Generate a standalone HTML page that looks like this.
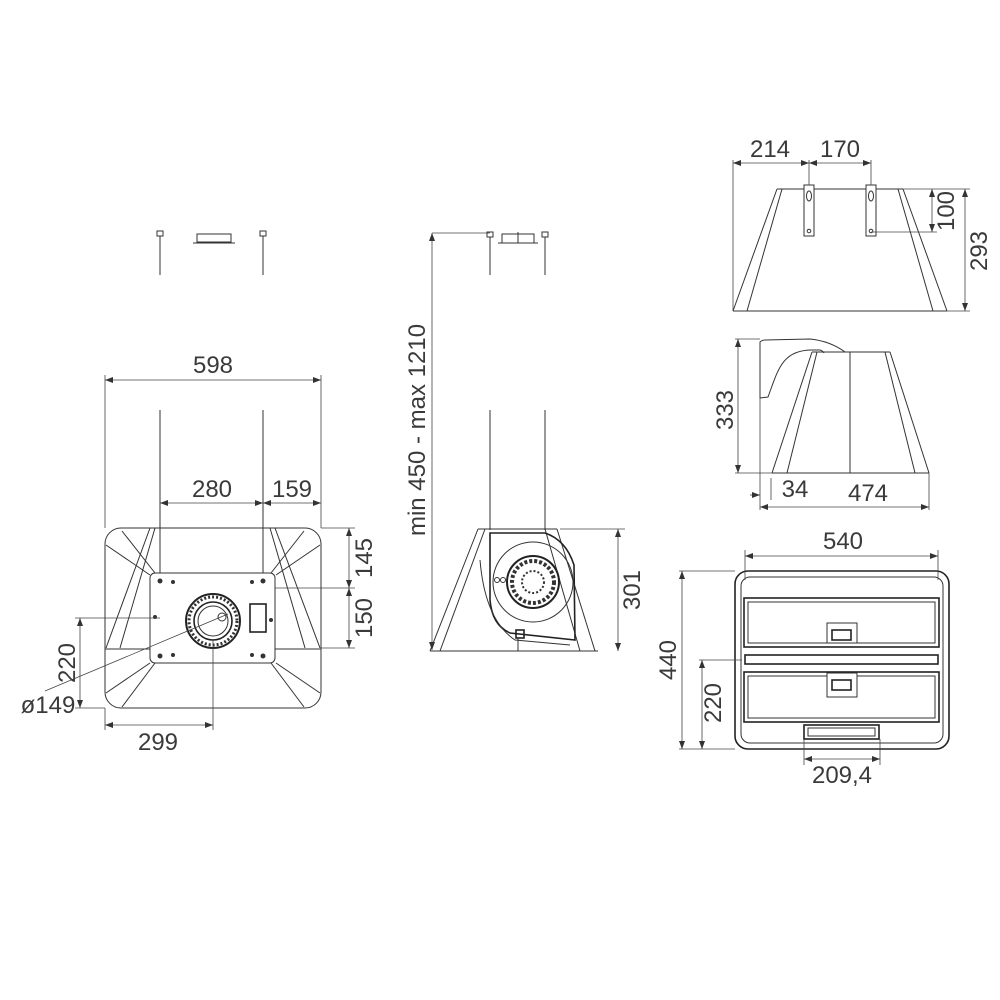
<!DOCTYPE html>
<html><head><meta charset="utf-8"><style>
html,body{margin:0;padding:0;background:#fff}
svg{display:block}
text{font-family:"Liberation Sans",sans-serif;font-size:24px;fill:#3a3a3a}
.l{stroke:#333;stroke-width:1;fill:none}
.t{stroke:#222;stroke-width:1.6;fill:none}
.d{stroke:#444;stroke-width:0.8;fill:none}
</style></head><body>
<svg width="1000" height="1000" viewBox="0 0 1000 1000" xmlns="http://www.w3.org/2000/svg">
<defs>
<marker id="a" markerWidth="8" markerHeight="6" refX="8" refY="3" orient="auto-start-reverse" markerUnits="userSpaceOnUse"><path d="M0,0 L8,3 L0,6 z" fill="#333"/></marker>
</defs>

<!-- LEFT VIEW -->
<g>
<line class="l" x1="160" y1="236" x2="160" y2="275"/><rect class="l" x="157" y="231" width="6" height="5"/>
<line class="l" x1="263" y1="236" x2="263" y2="275"/><rect class="l" x="260" y="231" width="6" height="5"/>
<rect class="l" x="197" y="234" width="34" height="8"/><line class="l" x1="193" y1="243" x2="235" y2="243"/>

<rect class="l" x="105" y="528" width="216" height="180" rx="16"/>
<line class="l" x1="105" y1="649" x2="321" y2="649"/>
<line class="l" x1="150" y1="528" x2="106" y2="648"/><line class="l" x1="155" y1="528" x2="120" y2="648"/>
<line class="l" x1="270" y1="528" x2="305" y2="648"/><line class="l" x1="275" y1="528" x2="320" y2="648"/>
<line class="l" x1="122" y1="531" x2="155" y2="573"/><line class="l" x1="106" y1="545" x2="150" y2="575"/>
<line class="l" x1="106" y1="693" x2="150" y2="663"/><line class="l" x1="122" y1="707" x2="155" y2="663"/>
<line class="l" x1="304" y1="531" x2="271" y2="573"/><line class="l" x1="320" y1="545" x2="276" y2="575"/>
<line class="l" x1="320" y1="693" x2="276" y2="663"/><line class="l" x1="304" y1="707" x2="271" y2="663"/>
<rect class="l" x="150" y="573" width="125" height="90" rx="5" style="fill:#fff"/>
<circle cx="213" cy="621" r="27" fill="none" stroke="#222" stroke-width="2"/>
<circle cx="213" cy="621" r="24" fill="none" stroke="#333" stroke-width="3" stroke-dasharray="2 2"/>
<circle cx="213" cy="621" r="19" class="t"/>
<circle cx="213" cy="621" r="15" class="l"/>
<circle cx="222" cy="617" r="4" class="l"/>
<rect x="250" y="604" width="16" height="28" class="t"/>
<g fill="#333"><circle cx="160" cy="581" r="2.5"/><circle cx="263" cy="581" r="2.5"/><circle cx="160" cy="656" r="2.5"/><circle cx="263" cy="656" r="2.5"/><circle cx="173" cy="582" r="2"/><circle cx="252" cy="582" r="2"/><circle cx="173" cy="655" r="2"/><circle cx="252" cy="655" r="2"/><circle cx="155" cy="617" r="2"/><circle cx="271" cy="620" r="2"/></g>
<line class="d" x1="105" y1="375" x2="105" y2="528"/><line class="d" x1="321" y1="375" x2="321" y2="528"/>
<line class="d" x1="105" y1="380" x2="321" y2="380" marker-start="url(#a)" marker-end="url(#a)"/>
<text x="213" y="373" text-anchor="middle">598</text>
<line class="l" x1="160" y1="410" x2="160" y2="573"/><line class="l" x1="263" y1="410" x2="263" y2="573"/>
<line class="d" x1="160" y1="503" x2="263" y2="503" marker-start="url(#a)" marker-end="url(#a)"/>
<line class="d" x1="263" y1="503" x2="321" y2="503" marker-start="url(#a)" marker-end="url(#a)"/>
<text x="212" y="497" text-anchor="middle">280</text><text x="292" y="497" text-anchor="middle">159</text>
<line class="d" x1="321" y1="528" x2="355" y2="528"/><line class="d" x1="275" y1="588" x2="355" y2="588"/><line class="d" x1="321" y1="648" x2="355" y2="648"/>
<line class="d" x1="349" y1="528" x2="349" y2="588" marker-start="url(#a)" marker-end="url(#a)"/>
<line class="d" x1="349" y1="588" x2="349" y2="648" marker-start="url(#a)" marker-end="url(#a)"/>
<text transform="translate(372,558) rotate(-90)" text-anchor="middle">145</text>
<text transform="translate(372,618) rotate(-90)" text-anchor="middle">150</text>
<line class="d" x1="75" y1="618" x2="160" y2="618"/><line class="d" x1="75" y1="708" x2="105" y2="708"/>
<line class="d" x1="80" y1="618" x2="80" y2="708" marker-start="url(#a)" marker-end="url(#a)"/>
<text transform="translate(75,663) rotate(-90)" text-anchor="middle">220</text>
<line class="d" x1="45" y1="691" x2="228" y2="614"/>
<text x="48" y="713" text-anchor="middle">ø149</text>
<line class="d" x1="105" y1="708" x2="105" y2="730"/><line class="d" x1="213" y1="640" x2="213" y2="730"/>
<line class="d" x1="105" y1="725" x2="213" y2="725" marker-start="url(#a)" marker-end="url(#a)"/>
<text x="158" y="750" text-anchor="middle">299</text>
</g>

<!-- MIDDLE VIEW -->
<g>
<line class="d" x1="432" y1="233" x2="490" y2="233"/>
<line class="d" x1="432" y1="233" x2="432" y2="650" marker-start="url(#a)" marker-end="url(#a)"/>
<text transform="translate(425,430) rotate(-90)" text-anchor="middle">min 450 - max 1210</text>
<line class="l" x1="490" y1="237" x2="490" y2="275"/><rect class="l" x="487" y="232" width="6" height="5"/>
<line class="l" x1="545" y1="237" x2="545" y2="275"/><rect class="l" x="542" y="232" width="6" height="5"/>
<rect class="l" x="502" y="234" width="32" height="9"/><line class="l" x1="498" y1="243" x2="538" y2="243"/><line class="l" x1="518" y1="232" x2="518" y2="243"/>
<line class="l" x1="490" y1="410" x2="490" y2="530"/><line class="l" x1="545" y1="410" x2="545" y2="530"/>
<line class="l" x1="478" y1="529" x2="557" y2="529"/>
<line class="l" x1="430" y1="651" x2="598" y2="651"/>
<line class="l" x1="478" y1="529" x2="430" y2="651"/><line class="l" x1="485" y1="529" x2="440" y2="651"/>
<line class="l" x1="557" y1="529" x2="595" y2="651"/><line class="l" x1="545" y1="529" x2="580" y2="651"/>
<path class="t" d="M490,533 L490,600 Q492,625 510,633 L575,640 L574,565 Q566,540 545,533 Z"/>
<circle cx="533" cy="582" r="40" class="l"/>
<circle cx="533" cy="582" r="26" fill="none" stroke="#222" stroke-width="2"/>
<circle cx="533" cy="582" r="21" fill="none" stroke="#333" stroke-width="4" stroke-dasharray="3 2"/>
<circle cx="533" cy="582" r="11" fill="none" stroke="#333" stroke-width="2" stroke-dasharray="2 2"/>
<path class="l" d="M480,560 Q485,620 515,640 L570,645"/>
<circle cx="497" cy="580" r="2.5" class="l"/><circle cx="503" cy="580" r="2.5" class="l"/>
<rect x="516" y="630" width="8" height="8" class="t"/>
<line class="l" x1="518" y1="638" x2="518" y2="651"/>
<line class="d" x1="560" y1="529" x2="625" y2="529"/>
<line class="d" x1="618" y1="529" x2="618" y2="651" marker-start="url(#a)" marker-end="url(#a)"/>
<text transform="translate(640,590) rotate(-90)" text-anchor="middle">301</text>
</g>

<!-- RIGHT TOP -->
<g>
<line class="l" x1="777" y1="189" x2="903" y2="189"/>
<line class="l" x1="733" y1="311" x2="947" y2="311"/>
<line class="l" x1="777" y1="189" x2="733" y2="311"/><line class="l" x1="782" y1="189" x2="747" y2="311"/>
<line class="l" x1="903" y1="189" x2="947" y2="311"/><line class="l" x1="898" y1="189" x2="933" y2="311"/>
<rect class="l" x="804" y="185" width="10" height="51" style="fill:#fff"/><rect class="l" x="866" y="185" width="10" height="51" style="fill:#fff"/>
<ellipse class="l" cx="809" cy="196" rx="2.5" ry="5"/><ellipse class="l" cx="871" cy="196" rx="2.5" ry="5"/>
<circle class="l" cx="809" cy="231" r="1.8"/><circle class="l" cx="871" cy="231" r="1.8"/>
<line class="d" x1="733" y1="160" x2="733" y2="311"/><line class="d" x1="809" y1="160" x2="809" y2="185"/><line class="d" x1="871" y1="160" x2="871" y2="185"/>
<line class="d" x1="733" y1="163" x2="809" y2="163" marker-start="url(#a)" marker-end="url(#a)"/>
<line class="d" x1="809" y1="163" x2="871" y2="163" marker-start="url(#a)" marker-end="url(#a)"/>
<text x="770" y="157" text-anchor="middle">214</text><text x="840" y="157" text-anchor="middle">170</text>
<line class="d" x1="903" y1="189" x2="970" y2="189"/><line class="d" x1="871" y1="232" x2="937" y2="232"/><line class="d" x1="947" y1="311" x2="970" y2="311"/>
<line class="d" x1="932" y1="189" x2="932" y2="232" marker-start="url(#a)" marker-end="url(#a)"/>
<line class="d" x1="965" y1="189" x2="965" y2="311" marker-start="url(#a)" marker-end="url(#a)"/>
<text transform="translate(954,211) rotate(-90)" text-anchor="middle">100</text>
<text transform="translate(987,251) rotate(-90)" text-anchor="middle">293</text>
</g>

<!-- RIGHT SIDE -->
<g>
<path class="l" d="M760,398 L760,342 Q762,340 765,340 L810,339 Q830,341 845,352"/>
<path class="l" d="M760,398 L768,397 C778,370 782,350 812,350 L820,350 Q823,351 824,353"/>
<line class="l" x1="812" y1="352" x2="890" y2="352"/>
<line class="l" x1="772" y1="473" x2="929" y2="473"/>
<line class="l" x1="812" y1="352" x2="772" y2="473"/><line class="l" x1="817" y1="352" x2="787" y2="473"/>
<line class="l" x1="850" y1="352" x2="850" y2="473"/>
<line class="l" x1="890" y1="352" x2="929" y2="473"/><line class="l" x1="885" y1="352" x2="915" y2="473"/>
<line class="d" x1="735" y1="339" x2="760" y2="339"/><line class="d" x1="735" y1="473" x2="772" y2="473"/>
<line class="d" x1="738" y1="339" x2="738" y2="473" marker-start="url(#a)" marker-end="url(#a)"/>
<text transform="translate(733,410) rotate(-90)" text-anchor="middle">333</text>
<line class="d" x1="760" y1="398" x2="760" y2="510"/><line class="d" x1="771" y1="478" x2="771" y2="500"/><line class="d" x1="929" y1="473" x2="929" y2="510"/>
<line class="d" x1="750" y1="495" x2="760" y2="495" marker-end="url(#a)"/>
<text x="795" y="497" text-anchor="middle">34</text>
<line class="d" x1="760" y1="507" x2="929" y2="507" marker-start="url(#a)" marker-end="url(#a)"/>
<text x="868" y="501" text-anchor="middle">474</text>
</g>

<!-- RIGHT BOTTOM -->
<g>
<rect class="t" x="735" y="571" width="214" height="178" rx="13"/>
<rect class="l" x="741" y="577" width="202" height="166" rx="9"/>
<rect class="t" x="744" y="598" width="195" height="49"/><rect class="l" x="748" y="602" width="187" height="41"/>
<rect class="t" x="745" y="655" width="193" height="9"/>
<rect class="t" x="744" y="672" width="195" height="50"/><rect class="l" x="748" y="676" width="187" height="42"/>
<rect class="l" x="827" y="623" width="30" height="20" style="fill:#fff"/><rect class="t" x="832" y="630" width="19" height="10"/>
<rect class="l" x="827" y="673" width="30" height="24" style="fill:#fff"/><rect class="t" x="832" y="680" width="19" height="10"/>
<rect class="t" x="804" y="725" width="75" height="14"/><rect class="l" x="808" y="728" width="67" height="8"/>
<line class="d" x1="745" y1="550" x2="745" y2="580"/><line class="d" x1="938" y1="550" x2="938" y2="580"/>
<line class="d" x1="745" y1="556" x2="938" y2="556" marker-start="url(#a)" marker-end="url(#a)"/>
<text x="843" y="549" text-anchor="middle">540</text>
<line class="d" x1="679" y1="571" x2="735" y2="571"/><line class="d" x1="679" y1="749" x2="735" y2="749"/><line class="d" x1="699" y1="660" x2="742" y2="660"/>
<line class="d" x1="682" y1="571" x2="682" y2="749" marker-start="url(#a)" marker-end="url(#a)"/>
<line class="d" x1="702" y1="660" x2="702" y2="749" marker-start="url(#a)" marker-end="url(#a)"/>
<text transform="translate(676,660) rotate(-90)" text-anchor="middle">440</text>
<text transform="translate(721,703) rotate(-90)" text-anchor="middle">220</text>
<line class="d" x1="804" y1="739" x2="804" y2="765"/><line class="d" x1="880" y1="739" x2="880" y2="765"/>
<line class="d" x1="804" y1="759" x2="880" y2="759" marker-start="url(#a)" marker-end="url(#a)"/>
<text x="842" y="783" text-anchor="middle">209,4</text>
</g>
</svg>
</body></html>
